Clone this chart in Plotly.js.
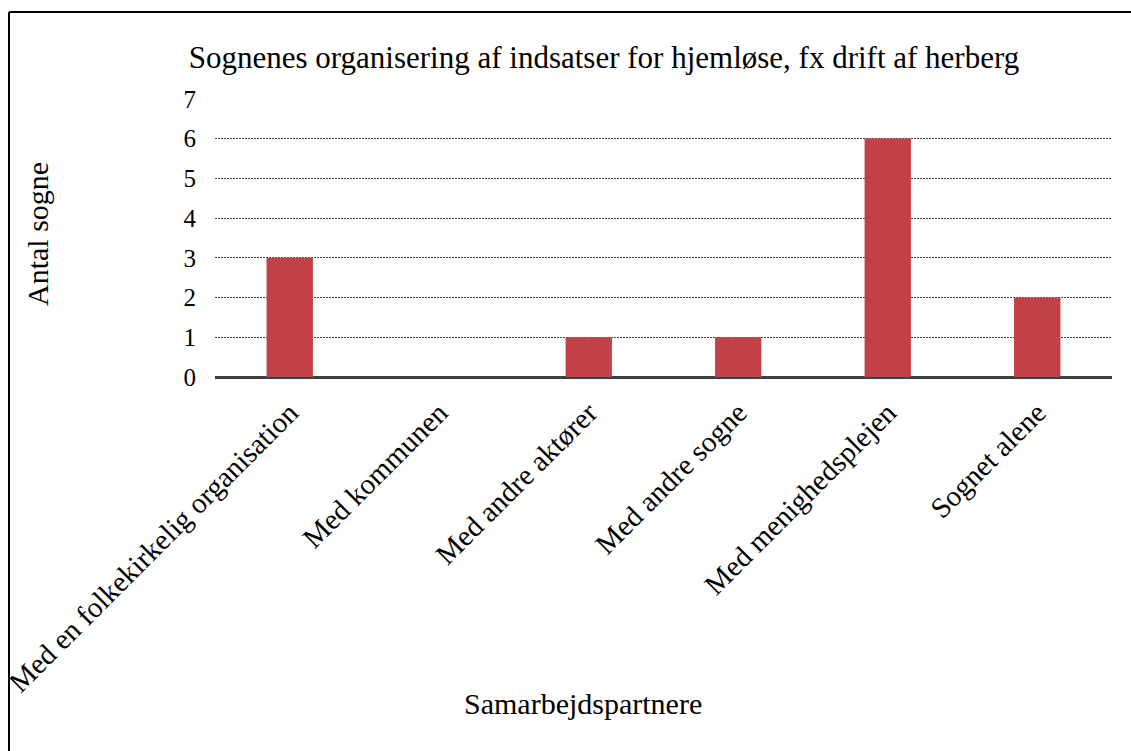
<!DOCTYPE html>
<html>
<head>
<meta charset="utf-8">
<script src="https://cdn.plot.ly/plotly-3.0.1.min.js"></script>
<style>html,body{margin:0;padding:0;background:#fff;}#chart{width:1131px;height:751px;}</style>
</head>
<body>
<div id="chart"></div>
<script>
const categories = ["Med en folkekirkelig organisation", "Med kommunen", "Med andre aktører", "Med andre sogne", "Med menighedsplejen", "Sognet alene"];
const values = [3, 0, 1, 1, 6, 2];
const yTicks = [0, 1, 2, 3, 4, 5, 6, 7];
const titleText = "Sognenes organisering af indsatser for hjemløse, fx drift af herberg";
const xTitle = "Samarbejdspartnere";
const yTitle = "Antal sogne";

const FONT = "Liberation Serif, serif";

const trace = {
  type: "bar",
  x: categories,
  y: values,
  marker: {color: "#C24146"},
  hoverinfo: "x+y"
};

const layout = {
  width: 1131, height: 751,
  margin: {l: 215, r: 19, t: 98, b: 374},
  paper_bgcolor: "#fff", plot_bgcolor: "#fff",
  font: {family: FONT, color: "#000"},
  bargap: 0.69,
  showlegend: false,
  title: {text: titleText, font: {family: FONT, size: 31, color: "#000"}, x: 604 / 1131, xanchor: "center", xref: "container", y: 1 - 57 / 751, yanchor: "middle", yref: "container"},
  xaxis: {
    type: "category",
    tickangle: -45,
    tickfont: {family: FONT, size: 29, color: "#000"},
    ticklabelstandoff: 12,
    showgrid: false, showline: false, ticks: "",
    automargin: false
  },
  yaxis: {
    range: [0, 7.02],
    tickvals: yTicks,
    tickfont: {family: FONT, size: 25, color: "#000"},
    ticklabelstandoff: 18,
    showgrid: true, gridcolor: "#4a4a4a", griddash: "2px,1px", gridwidth: 1,
    zeroline: true, zerolinecolor: "#404040", zerolinewidth: 3,
    showline: false, ticks: "",
    automargin: false
  },
  shapes: [
    {type: "line", xref: "paper", yref: "paper", x0: (9 - 215) / 897, x1: (1140 - 215) / 897, y0: (377 - 12) / 279, y1: (377 - 12) / 279, line: {color: "#000", width: 2}},
    {type: "line", xref: "paper", yref: "paper", x0: (9 - 215) / 897, x1: (9 - 215) / 897, y0: (377 - 12) / 279, y1: (377 - 760) / 279, line: {color: "#000", width: 2}}
  ],
  annotations: [
    {text: xTitle, xref: "paper", yref: "paper", x: (583 - 215) / 897, y: (377 - 703) / 279, xanchor: "center", yanchor: "middle", showarrow: false, font: {family: FONT, size: 30, color: "#000"}},
    {text: yTitle, xref: "paper", yref: "paper", x: (37 - 215) / 897, y: (377 - 234) / 279, xanchor: "center", yanchor: "middle", textangle: -90, showarrow: false, font: {family: FONT, size: 30, color: "#000"}}
  ]
};

Plotly.newPlot("chart", [trace], layout, {displayModeBar: false});
</script>
</body>
</html>
